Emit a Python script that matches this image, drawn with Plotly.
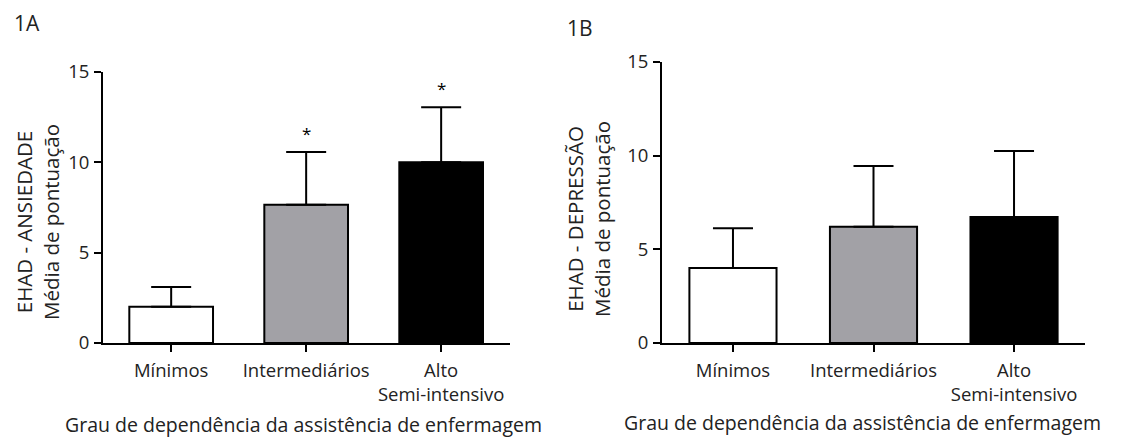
import plotly.graph_objects as go

categories = ["Mínimos", "Intermediários", "Alto<br>Semi-intensivo"]
ansiedade_mean = [2.0, 7.65, 10.0]
ansiedade_sd = [1.1, 2.92, 3.05]
depressao_mean = [4.0, 6.2, 6.73]
depressao_sd = [2.12, 3.25, 3.52]
ansiedade_sig = [False, True, True]
bar_colors = ["#ffffff", "#a2a1a6", "#000000"]
y_ticks = [0, 5, 10, 15]

FONT = "Open Sans"
VW, VH = 1121, 443
OFF = 8  # default page body margin
W, H = VW - OFF, VH - OFF

fig = go.Figure()

def add_panel(means, sds, xa, ya):
    fig.add_trace(go.Bar(
        x=categories, y=means, xaxis=xa, yaxis=ya,
        marker=dict(color=bar_colors, line=dict(color="black", width=2)),
        width=0.62,
        error_y=dict(type="data", symmetric=False, array=sds,
                     arrayminus=[0] * len(sds), color="black",
                     thickness=2, width=20),
        showlegend=False, hoverinfo="x+y",
    ))

add_panel(ansiedade_mean, ansiedade_sd, "x", "y")
add_panel(depressao_mean, depressao_sd, "x2", "y2")

for c, m, s, sig in zip(categories, ansiedade_mean, ansiedade_sd, ansiedade_sig):
    if sig:
        fig.add_annotation(x=c, y=m + s, xref="x", yref="y", text="*",
                           showarrow=False, yanchor="bottom", yshift=5,
                           font=dict(family=FONT, size=17, color="black"))

def fx(p):
    return (p - OFF) / W

def fy(p):
    return (H - (p - OFF)) / H

def px_x(a, b):
    return [fx(a), fx(b)]

def px_y(top, bottom):
    return [fy(bottom), fy(top)]

axis_common = dict(showline=True, linecolor="black", linewidth=2,
                   ticks="outside", tickcolor="black", tickwidth=2,
                   ticklen=7, showgrid=False, zeroline=False, automargin=False,
                   tickfont=dict(family=FONT, size=18.5, color="#222"))

fig.update_layout(
    template="none",
    width=W, height=H, margin=dict(l=0, r=0, t=0, b=0, pad=0, autoexpand=False),
    plot_bgcolor="white", paper_bgcolor="white",
    font=dict(family=FONT, color="#222"),
    xaxis=dict(domain=px_x(103, 510), range=[-0.505, 2.51], anchor="y",
               ticklabelstandoff=3, **axis_common),
    yaxis=dict(domain=px_y(72, 343), range=[0, 15], tickvals=y_ticks,
               anchor="x", ticklabelstandoff=1, **axis_common),
    xaxis2=dict(domain=px_x(662, 1085), range=[-0.505, 2.505], anchor="y2",
                ticklabelstandoff=3, **axis_common),
    yaxis2=dict(domain=px_y(62, 343), range=[0, 15], tickvals=y_ticks,
                anchor="x2", ticklabelstandoff=1, **axis_common),
)

texts = [
    ("1A", 12, 23, "left", 21),
    ("1B", 565, 28, "left", 21),
    ("Grau de dependência da assistência de enfermagem", 303, 424, "center", 19.5),
    ("Grau de dependência da assistência de enfermagem", 862, 422, "center", 19.5),
]
for t, x, y, al, sz in texts:
    fig.add_annotation(x=fx(x), y=fy(y), xref="paper", yref="paper",
                       text=t, showarrow=False, xanchor=al, yanchor="middle",
                       font=dict(family=FONT, size=sz, color="#222"))

ytitles = [("EHAD - ANSIEDADE<br>Média de pontuação", 37, 222),
           ("EHAD - DEPRESSÃO<br>Média de pontuação", 588, 219)]
for t, x, y in ytitles:
    fig.add_annotation(x=fx(x), y=fy(y), xref="paper", yref="paper",
                       text=t, showarrow=False, textangle=-90,
                       xanchor="center", yanchor="middle",
                       font=dict(family=FONT, size=20.5, color="#222"))

fig.write_html("out.html")
